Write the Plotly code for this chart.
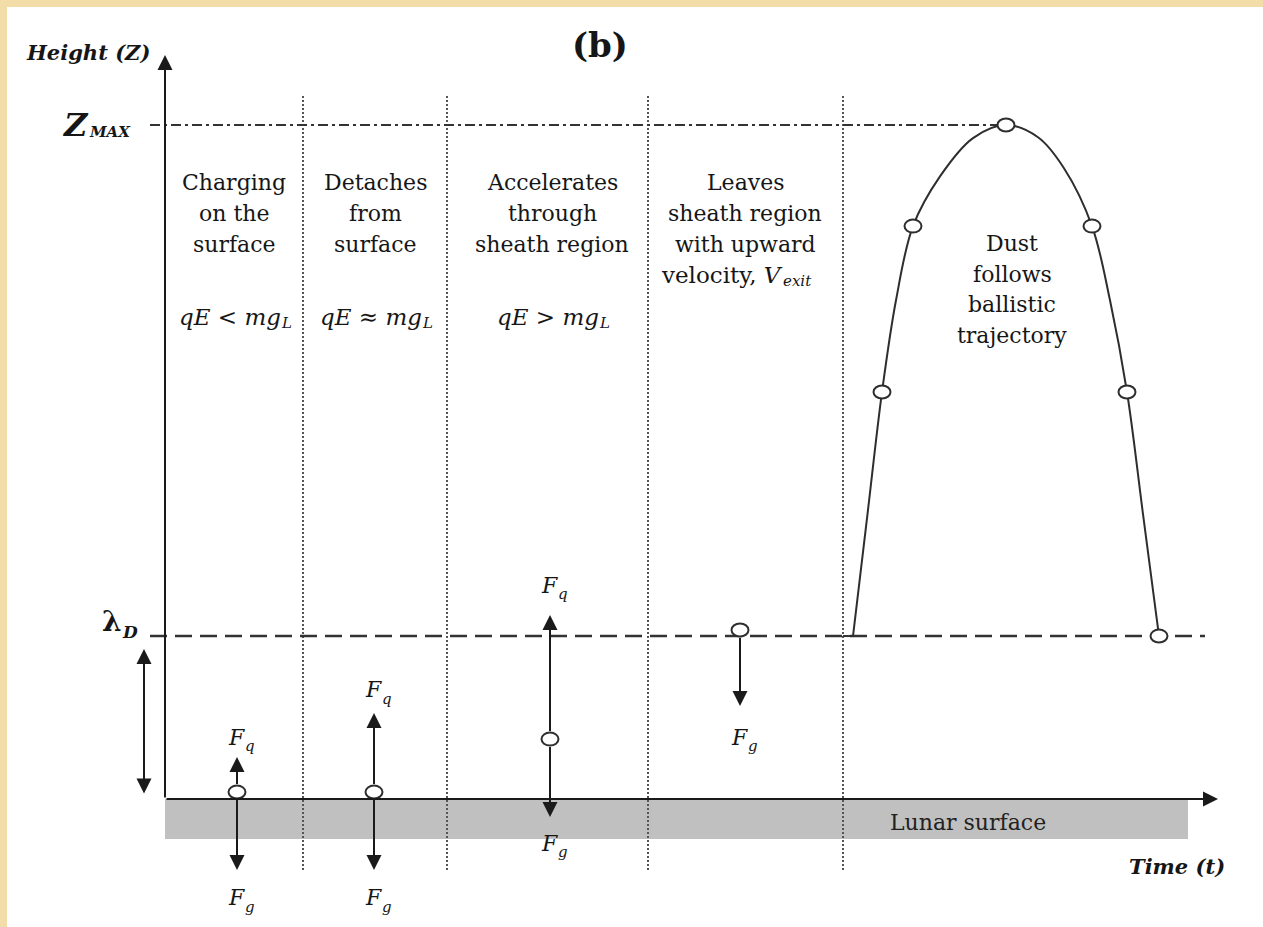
import plotly.graph_objects as go

W, H = 1263, 927

# Frame in time / height units (height measured so that the sheath thickness lambda_D = 1)
T_RANGE = [-1.65, 10.98]
Z_RANGE = [-0.785, 4.902]

LAMBDA_D = 1.0
Z_MAX = 4.135
T_AXIS_END = 10.53
Z_AXIS_END = 4.564
REF_LINE_START = -0.15
LAMBDA_LINE_END = 10.40

# Lunar surface band
SURFACE_T = [0.0, 10.23]
SURFACE_Z = [-0.245, 0.0]

# Boundaries between the stages of the lofting process
STAGE_BOUNDS = [1.38, 2.82, 4.83, 6.78]
STAGE_BOUND_Z = [-0.436, 4.32]

# Stage descriptions, one list of lines per stage
STAGE_T = [0.69, 2.10, 3.87, 5.80, 8.47]
STAGE_TOP_Z = [3.785, 3.785, 3.785, 3.785, 3.411]
STAGE_LINES = [
    ["Charging", "on the", "surface"],
    ["Detaches", "from", "surface"],
    ["Accelerates", "through", "sheath region"],
    ["Leaves", "sheath region", "with upward"],
    ["Dust", "follows", "ballistic", "trajectory"],
]
LINE_STEP = 0.19
# last line of the fourth stage carries the exit velocity symbol
EXIT_LINE = ("velocity, <i>V</i>", "exit")
EXIT_JOIN_T = 6.18

# Force balance in the first three stages
FORCE_REL_T = [0.69, 2.10, 3.87]
FORCE_REL_Z = 2.957
FORCE_REL_MAIN = ["qE &lt; mg", "qE \u2248 mg", "qE &gt; mg"]
FORCE_REL_SUB = "L"
FORCE_REL_JOIN = 0.47

# Dust grain position and force arrows in the first four stages
PARTICLE_T = [0.72, 2.09, 3.85, 5.75]
PARTICLE_Z = [0.043, 0.043, 0.368, 1.037]
FQ_TIP = [0.258, 0.528, 1.129, None]
FG_TIP = [-0.436, -0.436, -0.110, 0.571]
FQ_LABEL_Z = [0.380, 0.669, 1.313, None]
FG_LABEL_Z = [-0.607, -0.607, -0.270, 0.380]
FORCE_LABEL_JOIN = 0.08

# Ballistic trajectory after leaving the sheath
TRAJ_FLAT_T = [6.78, 6.88]
TRAJ_FLAT_Z = [1.0, 1.0]
TRAJ_T = [6.88, 7.025, 7.17, 7.31, 7.48, 7.75, 8.08, 8.41, 8.73, 8.99, 9.27, 9.45, 9.62, 9.78, 9.94]
TRAJ_Z = [1.0, 1.748, 2.497, 3.06, 3.515, 3.82, 4.055, 4.135, 4.06, 3.87, 3.515, 3.06, 2.497, 1.748, 1.0]
SAMPLE_T = [7.17, 7.48, 8.41, 9.27, 9.62, 9.94]
SAMPLE_Z = [2.497, 3.515, 4.135, 3.515, 2.497, 1.0]

# Debye length marker
DEBYE_T = -0.21
DEBYE_Z = [0.025, 0.92]

# Level labels (symbol joins its subscript at these t positions)
ZMAX_JOIN_T = -0.76
LAMBDA_JOIN_T = -0.43
LAMBDA_LABEL_Z = 1.092

# Grain drawn as a small ellipse (half-width in t, half-height in z)
GRAIN_RT = 0.085
GRAIN_RZ = 0.040

SERIF = "DejaVu Serif, serif"
INK = "#161616"
LINE = "#2e2e2e"

fig = go.Figure()

# stage boundaries (fine dotted)
bx, by = [], []
for b in STAGE_BOUNDS:
    bx += [b, b, None]
    by += [STAGE_BOUND_Z[0], STAGE_BOUND_Z[1], None]
fig.add_trace(go.Scatter(x=bx, y=by, mode="lines",
                         line=dict(color="#555555", width=2, dash="2px,2px"),
                         hoverinfo="skip"))

# Z_MAX reference (dash-dot)
fig.add_trace(go.Scatter(x=[REF_LINE_START, SAMPLE_T[2]], y=[Z_MAX, Z_MAX], mode="lines",
                         line=dict(color="#333333", width=2, dash="10px,4px,3px,4px"),
                         hoverinfo="skip"))
# lambda_D reference (dashed)
fig.add_trace(go.Scatter(x=[REF_LINE_START, LAMBDA_LINE_END], y=[LAMBDA_D, LAMBDA_D], mode="lines",
                         line=dict(color="#333333", width=2.5, dash="17px,8px"),
                         hoverinfo="skip"))

# trajectory
fig.add_trace(go.Scatter(x=TRAJ_FLAT_T, y=TRAJ_FLAT_Z, mode="lines",
                         line=dict(color=LINE, width=2), hoverinfo="skip"))
fig.add_trace(go.Scatter(x=TRAJ_T, y=TRAJ_Z, mode="lines",
                         line=dict(color=LINE, width=2, shape="spline", smoothing=1.0),
                         hoverinfo="skip"))

shapes = []
# white page panel on the parchment background
shapes.append(dict(type="rect", xref="paper", yref="paper",
                   x0=7 / W, x1=1, y0=0, y1=1 - 7 / H,
                   fillcolor="white", line=dict(width=0), layer="below"))
# lunar surface band
shapes.append(dict(type="rect", xref="x", yref="y",
                   x0=SURFACE_T[0], x1=SURFACE_T[1], y0=SURFACE_Z[0], y1=SURFACE_Z[1],
                   fillcolor="#c0c0c0", line=dict(width=0), layer="below"))

# grains
for t, z in list(zip(PARTICLE_T, PARTICLE_Z)) + list(zip(SAMPLE_T, SAMPLE_Z)):
    shapes.append(dict(type="circle", xref="x", yref="y",
                       x0=t - GRAIN_RT, x1=t + GRAIN_RT, y0=z - GRAIN_RZ, y1=z + GRAIN_RZ,
                       fillcolor="white", line=dict(color=LINE, width=2), layer="above"))

annotations = []


def arrow(x, y, ax, ay, both=False, size=1.5):
    annotations.append(dict(x=x, y=y, ax=ax, ay=ay, xref="x", yref="y", axref="x", ayref="y",
                            text="", showarrow=True, arrowhead=2, arrowsize=size,
                            arrowwidth=2, arrowcolor="#1a1a1a",
                            arrowside="end+start" if both else "end",
                            startarrowhead=2, startarrowsize=size))


def label(x, y, text, size=22, color=INK, anchor="center", yshift=0):
    annotations.append(dict(x=x, y=y, xref="x", yref="y", text=text, showarrow=False,
                            font=dict(family=SERIF, size=size, color=color),
                            xanchor=anchor, yanchor="middle", align="center",
                            borderpad=0, borderwidth=0, yshift=yshift))


def with_subscript(join_t, z, main, sub, size=22, sub_size=15, drop=7):
    """Symbol ending at join_t, subscript starting there and set lower."""
    label(join_t, z, main, size=size, anchor="right")
    label(join_t, z, sub, size=sub_size, anchor="left", yshift=-drop)


# axes
arrow(0, Z_AXIS_END, 0, 0)
arrow(T_AXIS_END, 0, 0, 0)
# Debye length marker
arrow(DEBYE_T, DEBYE_Z[1], DEBYE_T, DEBYE_Z[0], both=True)

# force arrows and labels
for i, (t, z) in enumerate(zip(PARTICLE_T, PARTICLE_Z)):
    if FQ_TIP[i] is not None:
        arrow(t, FQ_TIP[i], t, z + GRAIN_RZ)
        with_subscript(t + FORCE_LABEL_JOIN, FQ_LABEL_Z[i], "<i>F</i>", "<i>q</i>", drop=9)
    arrow(t, FG_TIP[i], t, z - GRAIN_RZ)
    with_subscript(t + FORCE_LABEL_JOIN, FG_LABEL_Z[i], "<i>F</i>", "<i>g</i>", drop=9)

# stage texts
for t, z0, lines in zip(STAGE_T, STAGE_TOP_Z, STAGE_LINES):
    for k, txt in enumerate(lines):
        label(t, z0 - k * LINE_STEP, txt)
with_subscript(EXIT_JOIN_T, STAGE_TOP_Z[3] - 3 * LINE_STEP, EXIT_LINE[0],
               "<i>" + EXIT_LINE[1] + "</i>", size=23, drop=6)

for t, txt in zip(FORCE_REL_T, FORCE_REL_MAIN):
    with_subscript(t + FORCE_REL_JOIN, FORCE_REL_Z, "<i>" + txt + "</i>",
                   "<i>" + FORCE_REL_SUB + "</i>", size=23, drop=6)

# axis titles and reference level labels
label(-0.77, 4.583, "<b><i>Height (Z)</i></b>", size=21)
label(10.12, -0.411, "<b><i>Time (t)</i></b>", size=21)
with_subscript(ZMAX_JOIN_T, Z_MAX, "<b><i>Z</i></b>", "<b><i>MAX</i></b>",
               size=32, sub_size=15, drop=7)
with_subscript(LAMBDA_JOIN_T, LAMBDA_LABEL_Z, "<b>\u03bb</b>", "<b><i>D</i></b>",
               size=28, sub_size=17, drop=11)
label(8.03, -0.141, "Lunar surface", size=22, color="#222222")
label(4.35, 4.626, "<b>(b)</b>", size=34)

fig.update_layout(
    width=W, height=H,
    margin=dict(l=0, r=0, t=0, b=0),
    paper_bgcolor="#f2dda8",
    plot_bgcolor="rgba(0,0,0,0)",
    showlegend=False,
    xaxis=dict(range=T_RANGE, visible=False, fixedrange=True),
    yaxis=dict(range=Z_RANGE, visible=False, fixedrange=True),
    shapes=shapes,
    annotations=annotations,
)

fig.write_html("out.html", config={"displayModeBar": False})
